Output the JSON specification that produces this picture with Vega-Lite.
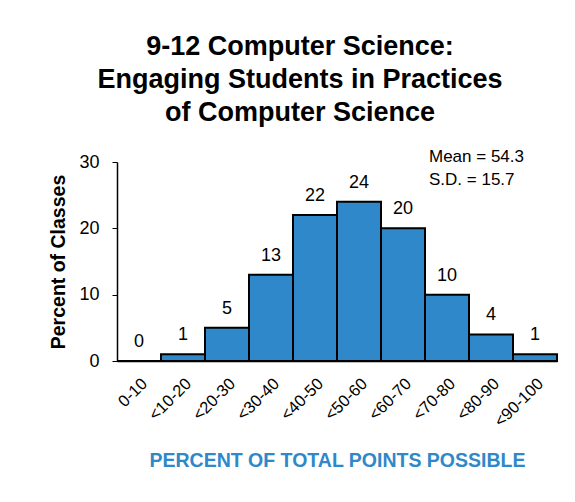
{
  "$schema": "https://vega.github.io/schema/vega-lite/v6.json",
  "width": 440,
  "height": 199,
  "autosize": {"type": "none"},
  "padding": {"left": 117, "top": 162, "right": 18, "bottom": 141},
  "background": "white",
  "title": {
    "text": ["9-12 Computer Science:", "Engaging Students in Practices", "of Computer Science"],
    "font": "Liberation Sans",
    "fontSize": 27,
    "fontWeight": "bold",
    "color": "black",
    "anchor": "middle",
    "baseline": "bottom",
    "lineHeight": 33,
    "dx": -37,
    "offset": -6
  },
  "config": {
    "view": {"stroke": null},
    "axis": {"grid": false, "domainColor": "black", "tickColor": "black", "labelColor": "black", "titleColor": "black"}
  },
  "datasets": {
    "bars": [
      {"bin": "0-10", "pct": 0},
      {"bin": "<10-20", "pct": 1},
      {"bin": "<20-30", "pct": 5},
      {"bin": "<30-40", "pct": 13},
      {"bin": "<40-50", "pct": 22},
      {"bin": "<50-60", "pct": 24},
      {"bin": "<60-70", "pct": 20},
      {"bin": "<70-80", "pct": 10},
      {"bin": "<80-90", "pct": 4},
      {"bin": "<90-100", "pct": 1}
    ],
    "notes": [
      {"bin": "<70-80", "y": 30.7, "text": "Mean = 54.3"},
      {"bin": "<70-80", "y": 27.35, "text": "S.D. = 15.7"}
    ]
  },
  "layer": [
    {
      "data": {"name": "bars"},
      "mark": {"type": "bar", "fill": "#2E88C9", "stroke": "black", "strokeWidth": 2},
      "encoding": {
        "x": {
          "field": "bin", "type": "nominal", "sort": null,
          "scale": {"paddingInner": 0, "paddingOuter": 0},
          "axis": {
            "title": "PERCENT OF TOTAL POINTS POSSIBLE",
            "titleFont": "Liberation Sans",
            "titleFontSize": 19.5,
            "titleFontWeight": "bold",
            "titleColor": "#2E88C9",
            "titlePadding": 22,
            "labelAngle": -45,
            "labelFont": "Liberation Sans",
            "labelFontSize": 16.5,
            "labelPadding": 14,
            "ticks": false,
            "domainWidth": 1.5
          }
        },
        "y": {
          "field": "pct", "type": "quantitative",
          "scale": {"domain": [0, 30]},
          "axis": {
            "title": "Percent of Classes",
            "titleFont": "Liberation Sans",
            "titleFontSize": 19.5,
            "titleFontWeight": "bold",
            "titlePadding": 10,
            "values": [0, 10, 20, 30],
            "labelFont": "Liberation Sans",
            "labelFontSize": 18,
            "labelPadding": 13,
            "tickSize": 5,
            "domainWidth": 1.5
          }
        }
      }
    },
    {
      "data": {"name": "bars"},
      "mark": {
        "type": "text", "baseline": "alphabetic", "dy": -14,
        "font": "Liberation Sans",
        "fontSize": 18, "color": "black"
      },
      "encoding": {
        "x": {"field": "bin", "type": "nominal", "sort": null},
        "y": {"field": "pct", "type": "quantitative"},
        "text": {"field": "pct", "type": "quantitative"}
      }
    },
    {
      "data": {"name": "notes"},
      "mark": {
        "type": "text", "align": "left", "baseline": "middle", "dx": 4,
        "font": "Liberation Sans",
        "fontSize": 17, "color": "black"
      },
      "encoding": {
        "x": {"field": "bin", "type": "nominal", "sort": null, "bandPosition": 0},
        "y": {"field": "y", "type": "quantitative"},
        "text": {"field": "text", "type": "nominal"}
      }
    }
  ]
}
